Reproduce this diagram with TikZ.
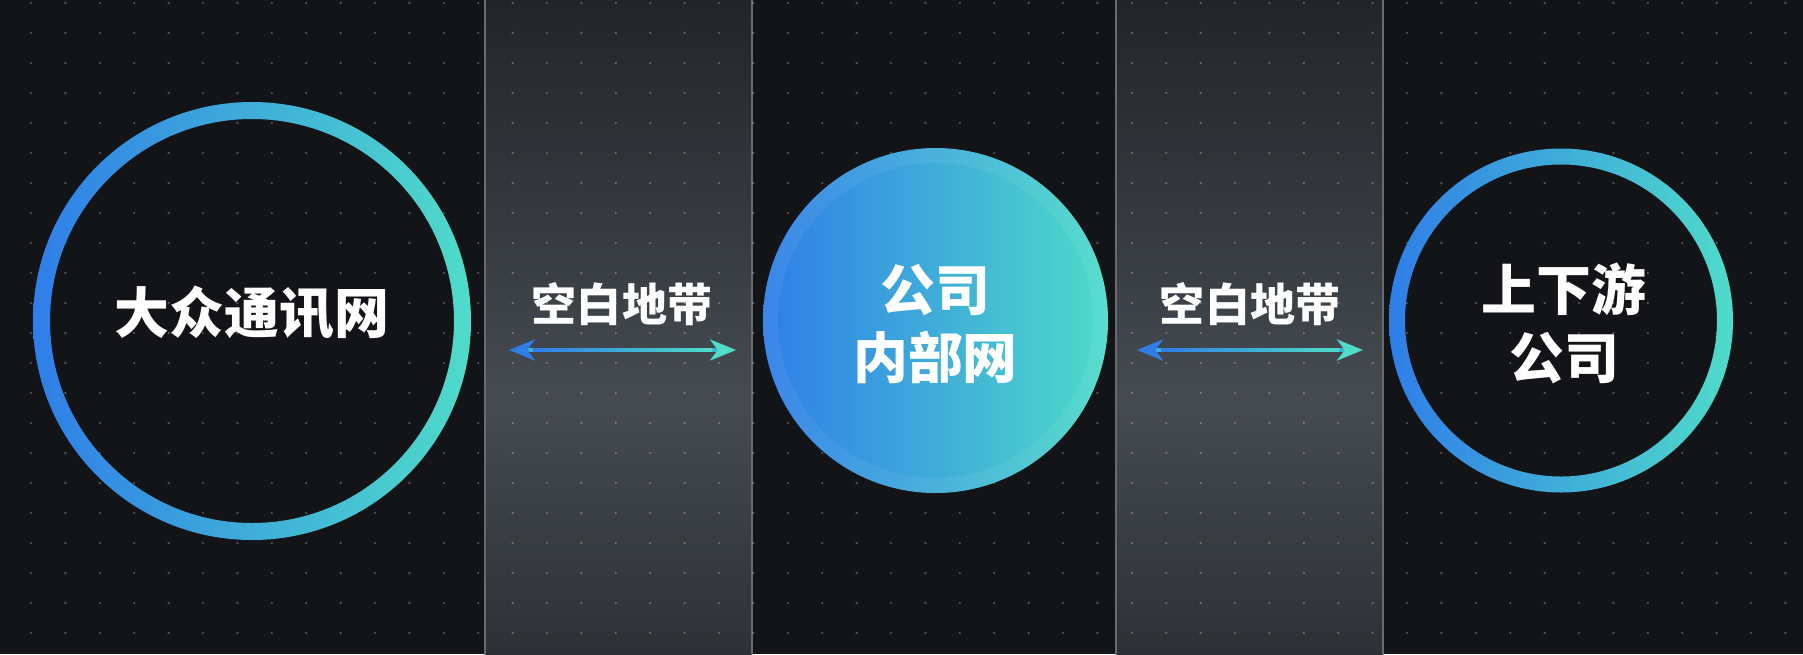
\documentclass[tikz,border=0pt]{standalone}
\usepackage{fontspec}
\newfontfamily\cjk{Noto Sans CJK SC}
\usetikzlibrary{arrows.meta,calc}

\definecolor{bgdark}{HTML}{121418}
\definecolor{cblue}{HTML}{2F7EE8}
\definecolor{cteal}{HTML}{4FDCC9}
\definecolor{cmid}{HTML}{3FAED8}
\definecolor{bandtop}{HTML}{222528}
\definecolor{bandmid}{HTML}{454B51}
\definecolor{bandbot}{HTML}{2D3135}
\definecolor{bandline}{HTML}{686C71}

\begin{document}
\begin{tikzpicture}[line cap=round,line join=round,x=0.01cm,y=-0.01cm,
    lbl/.style={text=white,align=center,font=\cjk\bfseries\fontsize{15.6}{19.3}\selectfont},
    gaplbl/.style={text=white,font=\cjk\bfseries\fontsize{12.8}{15}\selectfont},
    ring/.style={even odd rule,left color=cblue,right color=cteal},
    gaparrow/.style={draw=cmid,line width=0.9pt,
      {Stealth[length=7.4pt,width=6pt,inset=2.2pt,color=cblue]}-{Stealth[length=7.4pt,width=6pt,inset=2.2pt,color=cteal]}}]
    \useasboundingbox (0,0) rectangle (1803,654);
    \fill[bgdark] (0,0) rectangle (1803,654);

    % the two gap bands
    \foreach \bx in {485,1116} {
      \shade[top color=bandtop,bottom color=bandmid] (\bx,0) rectangle (\bx+267,401);
      \shade[top color=bandmid,bottom color=bandbot] (\bx,400) rectangle (\bx+267,654);
      \draw[bandline,line width=0.45pt] (\bx,0) -- (\bx,654);
      \draw[bandline,line width=0.45pt] (\bx+267,0) -- (\bx+267,654);
    }

    % dot grid
    \foreach \i in {0,...,51}
      \foreach \j in {0,...,21}
        \fill[white,opacity=.3] (31+34.4*\i,3+30*\j) circle (1.2);

    % circles
    \shade[ring] (252,321) circle (219) (252,321) circle (202);
    \shade[left color=cblue,right color=cteal] (935.5,320.5) circle (172.5);
    \draw[white,opacity=.06,line width=4.3pt] (935.5,320.5) circle (165);
    \shade[ring] (1561,320.5) circle (172) (1561,320.5) circle (156);

    \node[lbl] (pub) at (252,313) {大众通讯网};
    \node[lbl] (intra) at (935.5,324) {公司\\内部网};
    \node[lbl] (partner) at (1564,323) {上下游\\公司};

    \node[gaplbl] (gapa) at (622,304) {空白地带};
    \node[gaplbl] (gapb) at (1250,304) {空白地带};

    \coordinate (gapal) at (509,350);
    \coordinate (gapar) at (736,350);
    \coordinate (gapbl) at (1137,350);
    \coordinate (gapbr) at (1363,350);

    \draw[gaparrow] (gapal) -- (gapar);
    \draw[gaparrow] (gapbl) -- (gapbr);
    \shade[left color=cblue,right color=cteal] ($(gapal)+(24,-1.6)$) rectangle ($(gapar)+(-24,1.6)$);
    \shade[left color=cblue,right color=cteal] ($(gapbl)+(24,-1.6)$) rectangle ($(gapbr)+(-24,1.6)$);
  \end{tikzpicture}
\end{document}
